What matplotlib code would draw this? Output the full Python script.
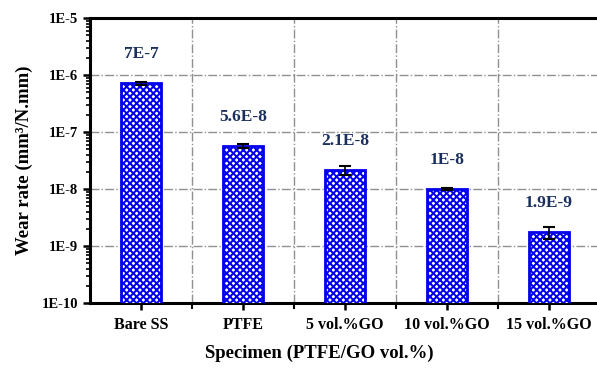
import numpy as np
import matplotlib
matplotlib.use('Agg')
import matplotlib.pyplot as plt
from matplotlib.ticker import LogLocator, FixedLocator, NullFormatter

# data
specimens = ['Bare SS', 'PTFE', '5 vol.%GO', '10 vol.%GO', '15 vol.%GO']
wear_rate = [7.1e-7, 5.6e-8, 2.15e-8, 1.0e-8, 1.75e-9]
wear_err = [0.4e-7, 0.45e-8, 0.4e-8, 0.03e-8, 0.4e-9]
bar_labels = ['7E-7', '5.6E-8', '2.1E-8', '1E-8', '1.9E-9']
y_ticks = [1e-10, 1e-9, 1e-8, 1e-7, 1e-6, 1e-5]
y_tick_labels = ['1E-10', '1E-9', '1E-8', '1E-7', '1E-6', '1E-5']

plt.rcParams['font.family'] = ['Liberation Serif', 'DejaVu Serif']
plt.rcParams['font.weight'] = 'bold'
plt.rcParams['hatch.linewidth'] = 1.45

fig = plt.figure(figsize=(5.97, 3.68), dpi=100)
ax = fig.add_axes([90 / 597, 1 - 303 / 368, 510 / 597, 285 / 368])

x = np.arange(len(specimens))
ax.bar(x, wear_rate, width=0.4, color='white', edgecolor='#0000ee',
       linewidth=2, hatch='xxxxx', zorder=3)
ax.errorbar(x, wear_rate, yerr=wear_err, fmt='none', ecolor='black',
            elinewidth=1.2, capsize=4, capthick=1.5, zorder=4)

for xi, v, lab in zip(x, wear_rate, bar_labels):
    ax.annotate(lab, (xi, v), xytext=(0, 21), textcoords='offset points',
                ha='center', va='center', fontsize=12.5, fontweight='bold',
                color='#1a2f5c')

ax.set_yscale('log')
ax.set_ylim(1e-10, 1e-5)
ax.set_yticks(y_ticks)
ax.set_yticklabels(y_tick_labels)
ax.yaxis.set_minor_locator(LogLocator(base=10, subs=np.arange(2, 10)))
ax.yaxis.set_minor_formatter(NullFormatter())

ax.set_xlim(-0.5, 4.5)
ax.set_xticks(x)
ax.set_xticklabels(specimens)
ax.xaxis.set_minor_locator(FixedLocator([0.5, 1.5, 2.5, 3.5]))

ax.grid(True, axis='y', which='major', color='#909090', linestyle='-.', linewidth=1)
ax.grid(True, axis='x', which='minor', color='#909090', linestyle='-.', linewidth=1)
ax.set_axisbelow(True)

for s in ['left', 'bottom', 'top']:
    ax.spines[s].set_linewidth(2.2)
ax.spines['right'].set_visible(False)

ax.tick_params(axis='both', which='major', direction='out', length=5, width=1.8)
ax.tick_params(axis='y', which='major', labelsize=10.5)
ax.tick_params(axis='x', which='major', labelsize=11.5, pad=5)
ax.tick_params(axis='y', which='minor', direction='out', length=3, width=1.2)
ax.tick_params(axis='x', which='minor', direction='out', length=4, width=1.5)
for t in ax.get_xticklabels() + ax.get_yticklabels():
    t.set_fontweight('bold')

ax.set_ylabel('Wear rate (mm³/N.mm)', fontsize=13.5, fontweight='bold', labelpad=6)
ax.set_xlabel('Specimen (PTFE/GO vol.%)', fontsize=13.5, fontweight='bold', va='center')
ax.xaxis.set_label_coords(0.45, -0.175)

fig.savefig('out.png', dpi=100)
